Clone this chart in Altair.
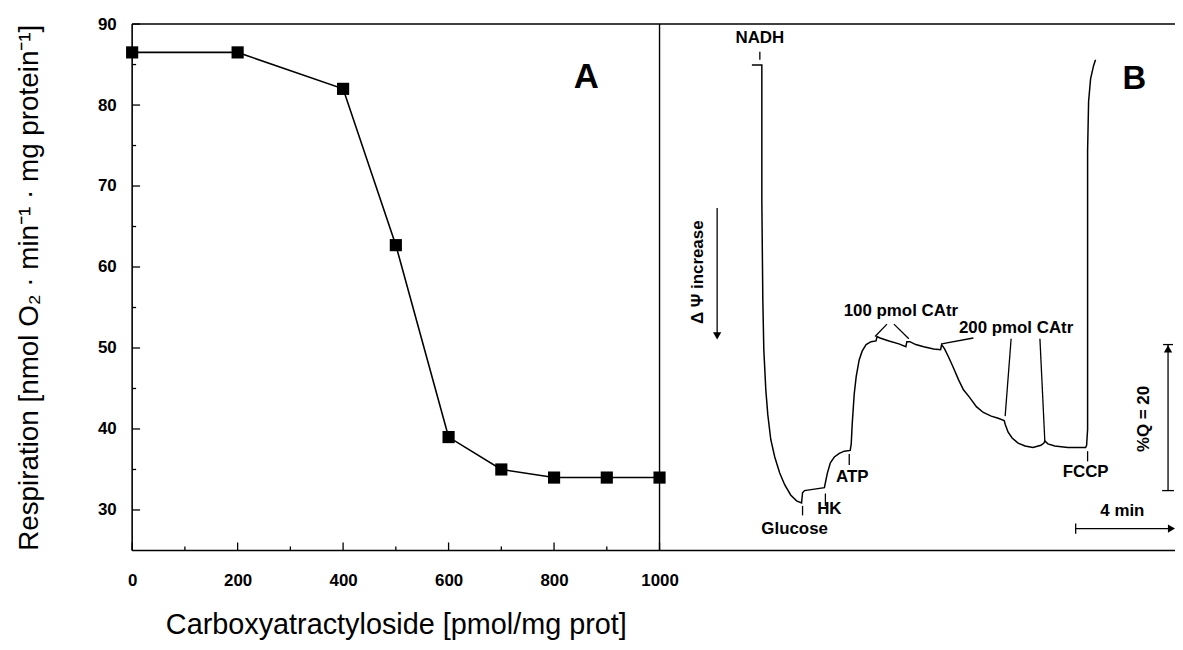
import altair as alt
import pandas as pd

FONT = "Liberation Sans, Arial, Helvetica, sans-serif"

# ---------------- Panel A data ----------------
catr = [0, 200, 400, 500, 600, 700, 800, 900, 1000]
resp = [86.5, 86.5, 82.0, 62.7, 39.0, 35.0, 34.0, 34.0, 34.0]
x_major = [0, 200, 400, 600, 800, 1000]
x_minor = [100, 300, 500, 700, 900]
y_major = [30, 40, 50, 60, 70, 80, 90]
y_minor = [35, 45, 55, 65, 75, 85]

# ---------------- Panel B data (time in min, signal in %Q units) ----------------
trace_t = [3.72, 4.12, 4.12, 4.16, 4.20, 4.28, 4.36, 4.48, 4.64, 4.84, 5.04, 5.28, 5.52, 5.72,
           5.76, 5.84, 6.24, 6.64,
           6.68, 6.76, 6.88, 7.04, 7.24, 7.44, 7.68,
           7.72, 7.76, 7.84, 7.92, 8.04, 8.16, 8.32, 8.52, 8.72,
           8.76, 8.88, 9.24, 9.64, 9.92,
           9.96, 10.08, 10.32, 10.64, 11.04, 11.32,
           11.36, 11.48, 11.64, 11.84, 12.04, 12.24, 12.48, 12.76, 13.04, 13.36, 13.64, 13.88,
           13.92, 14.04, 14.20, 14.44, 14.72, 15.04, 15.36, 15.48,
           15.52, 15.64, 15.92, 16.44, 17.16,
           17.20, 17.24, 17.24, 17.24, 17.28, 17.36, 17.48, 17.56]
trace_s = [66.5, 66.5, 47.9, 34.3, 27.5, 22.0, 18.6, 15.2, 12.8, 10.6, 9.0, 7.6, 6.8, 6.5,
           7.9, 8.2, 8.4, 8.6,
           9.3, 10.6, 12.0, 12.8, 13.3, 13.6, 13.7,
           14.6, 17.3, 21.4, 23.8, 26.1, 27.3, 28.2, 28.6, 28.7,
           29.3, 29.1, 28.7, 28.3, 27.9,
           28.6, 28.6, 28.2, 27.9, 27.6, 27.5,
           28.2, 27.6, 26.5, 25.0, 23.4, 22.0, 21.0, 19.7, 18.9, 18.4, 18.1, 17.8,
           17.3, 16.2, 15.4, 14.7, 14.3, 14.1, 14.4, 14.7,
           15.0, 14.6, 14.3, 14.1, 14.1,
           14.4, 16.6, 34.3, 54.7, 61.5, 64.6, 66.4, 67.2]

# annotation segments (t1, s1, t2, s2)
seg_t1 = [9.16, 9.44, 12.64, 14.16, 15.32, 4.04, 5.76, 6.68, 7.64, 17.24, 2.32, 20.48, 20.28, 20.24, 16.76, 16.76]
seg_s1 = [31.0, 31.0, 29.1, 29.0, 29.0, 68.3, 6.1, 7.8, 13.2, 13.6, 46.9, 28.2, 28.2, 8.2, 3.0, 3.7]
seg_t2 = [8.68, 10.04, 11.36, 13.92, 15.52, 4.04, 5.76, 6.68, 7.64, 17.24, 2.32, 20.48, 20.68, 20.72, 20.62, 16.76]
seg_s2 = [29.3, 29.0, 28.3, 18.4, 14.8, 67.2, 4.8, 6.1, 11.7, 12.2, 29.5, 8.2, 28.2, 8.2, 3.0, 2.3]

lab_text = ["NADH", "Glucose", "HK", "ATP", "FCCP", "100 pmol CAtr", "200 pmol CAtr", "4 min"]
lab_t = [4.04, 5.44, 6.84, 7.76, 17.16, 9.72, 14.36, 18.64]
lab_s = [70.2, 3.0, 5.7, 10.1, 10.7, 32.8, 30.5, 5.4]

rot_text = ["Δ Ψ increase", "%Q = 20"]
rot_t = [1.56, 19.52]
rot_s = [38.1, 18.0]

head_t = [2.32, 20.48, 20.62]
head_s = [29.4, 27.6, 3.0]
head_shape = ["triangle-down", "triangle-up", "triangle-right"]

# ---------------- layout ----------------
W, H, AW = 1050, 530, 531
XA = alt.Scale(domain=[0, 1000], range=[0, AW], nice=False, zero=False)
YA = alt.Scale(domain=[25, 90], range=[H, 0], nice=False, zero=False)
XB = alt.Scale(domain=[0, 20.76], range=[AW, W], nice=False, zero=False)
YB = alt.Scale(domain=[0, 72.1], range=[H, 0], nice=False, zero=False)

dfA = pd.DataFrame({"catr": catr, "resp": resp})
one = pd.DataFrame({"k": [0]})

line_a = alt.Chart(dfA).mark_line(color="black", strokeWidth=1.6).encode(
    x=alt.X("catr:Q", scale=XA, axis=alt.Axis(
        values=x_major, format="d", title="Carboxyatractyloside [pmol/mg prot]",
        domain=False, ticks=False, tickSize=0, grid=False, labelFlush=False,
        labelPadding=22, labelFontSize=17, labelFontWeight="bold",
        titleFontSize=29, titleFontWeight="normal", titleY=75, titleBaseline="middle")),
    y=alt.Y("resp:Q", scale=YA, axis=alt.Axis(
        values=y_major, format="d",
        title="Respiration [nmol O₂ · min⁻¹ · mg protein⁻¹]",
        domain=False, ticks=False, tickSize=0, grid=False, labelFlush=False,
        labelPadding=16, labelFontSize=17, labelFontWeight="bold",
        titleFontSize=28, titleFontWeight="normal", titleX=-103, titleY=265,
        titleAngle=270, titleAlign="center", titleBaseline="middle")),
)
pts_a = alt.Chart(dfA).mark_point(shape="square", filled=True, size=150, color="black", opacity=1).encode(
    x=alt.X("catr:Q", scale=XA, axis=None),
    y=alt.Y("resp:Q", scale=YA, axis=None),
)

def yticks(vals, ln):
    return alt.Chart(pd.DataFrame({"v": vals})).mark_rule(color="black", strokeWidth=1.3).encode(
        y=alt.Y("v:Q", scale=YA, axis=None), x=alt.value(0), x2=alt.value(ln))

def xticks(vals, ln):
    return alt.Chart(pd.DataFrame({"v": vals})).mark_rule(color="black", strokeWidth=1.3).encode(
        x=alt.X("v:Q", scale=XA, axis=None), y=alt.value(H), y2=alt.value(H - ln))

frame = [
    alt.Chart(one).mark_rule(color="black", strokeWidth=1.6).encode(x=alt.value(0), x2=alt.value(W), y=alt.value(0)),
    alt.Chart(one).mark_rule(color="black", strokeWidth=1.6).encode(x=alt.value(0), x2=alt.value(W), y=alt.value(H)),
    alt.Chart(one).mark_rule(color="black", strokeWidth=1.6).encode(x=alt.value(0), y=alt.value(0), y2=alt.value(H)),
    alt.Chart(one).mark_rule(color="black", strokeWidth=1.4).encode(x=alt.value(AW), y=alt.value(0), y2=alt.value(H)),
]

label_a = alt.Chart(pd.DataFrame({"x": [861], "y": [83.5], "t": ["A"]})).mark_text(
    fontSize=35, fontWeight="bold", color="black", align="center", baseline="middle", font=FONT).encode(
    x=alt.X("x:Q", scale=XA, axis=None), y=alt.Y("y:Q", scale=YA, axis=None), text="t:N")

dfT = pd.DataFrame({"i": list(range(len(trace_t))), "t": trace_t, "s": trace_s})
trace = alt.Chart(dfT).mark_line(color="black", strokeWidth=1.5).encode(
    x=alt.X("t:Q", scale=XB, axis=None), y=alt.Y("s:Q", scale=YB, axis=None), order="i:Q")

dfS = pd.DataFrame({"t1": seg_t1, "s1": seg_s1, "t2": seg_t2, "s2": seg_s2})
segs = alt.Chart(dfS).mark_rule(color="black", strokeWidth=1.3).encode(
    x=alt.X("t1:Q", scale=XB, axis=None), y=alt.Y("s1:Q", scale=YB, axis=None),
    x2="t2:Q", y2="s2:Q")

dfL = pd.DataFrame({"t": lab_t, "s": lab_s, "txt": lab_text})
labels_b = alt.Chart(dfL).mark_text(fontSize=17, fontWeight="bold", color="black", align="center",
                                    baseline="middle", font=FONT).encode(
    x=alt.X("t:Q", scale=XB, axis=None), y=alt.Y("s:Q", scale=YB, axis=None), text="txt:N")

dfR = pd.DataFrame({"t": rot_t, "s": rot_s, "txt": rot_text})
rot_b = alt.Chart(dfR).mark_text(fontSize=17, fontWeight="bold", color="black", align="center",
                                 baseline="middle", angle=270, font=FONT).encode(
    x=alt.X("t:Q", scale=XB, axis=None), y=alt.Y("s:Q", scale=YB, axis=None), text="txt:N")

dfH = pd.DataFrame({"t": head_t, "s": head_s, "shape": head_shape})
heads = alt.Chart(dfH).mark_point(filled=True, size=70, color="black", opacity=1).encode(
    x=alt.X("t:Q", scale=XB, axis=None), y=alt.Y("s:Q", scale=YB, axis=None),
    shape=alt.Shape("shape:N", scale=None))

label_b = alt.Chart(pd.DataFrame({"t": [19.12], "s": [64.5], "txt": ["B"]})).mark_text(
    fontSize=33, fontWeight="bold", color="black", align="center", baseline="middle", font=FONT).encode(
    x=alt.X("t:Q", scale=XB, axis=None), y=alt.Y("s:Q", scale=YB, axis=None), text="txt:N")

chart = alt.layer(
    *frame,
    yticks(y_major, 8), yticks(y_minor, 4), xticks(x_major, 8), xticks(x_minor, 4),
    line_a, pts_a, label_a,
    trace, segs, heads, labels_b, rot_b, label_b,
).resolve_scale(x="independent", y="independent").properties(
    width=W, height=H,
    autosize=alt.AutoSizeParams(type="none"),
    padding={"left": 125, "top": 14, "right": 0, "bottom": 90},
).configure_view(strokeWidth=0).configure_axis(
    labelFont=FONT, titleFont=FONT, labelColor="black", titleColor="black"
).configure_text(font=FONT)

chart.save("out.html", embed_options={"renderer": "svg", "actions": False})
